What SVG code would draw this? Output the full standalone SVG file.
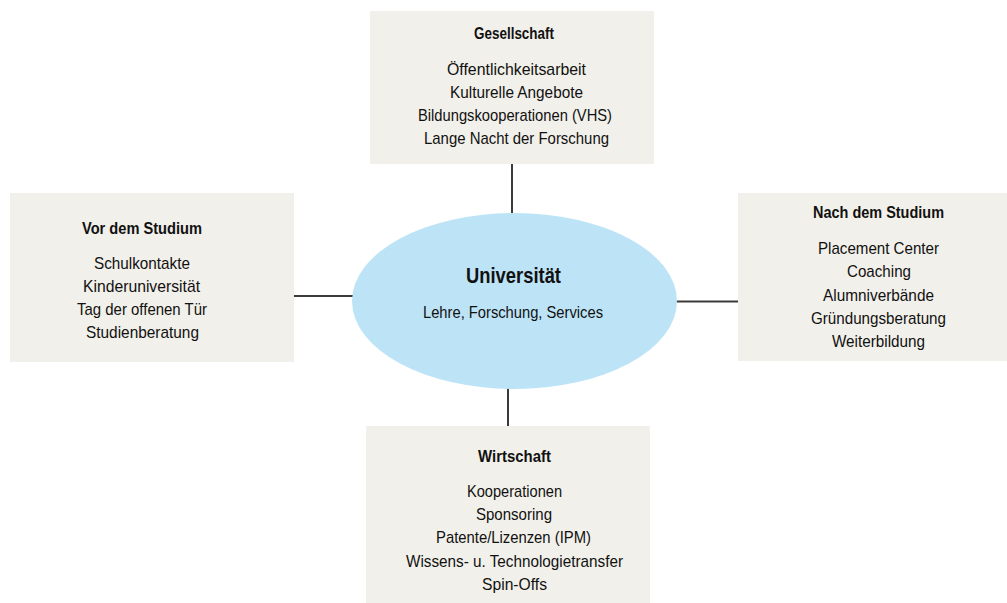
<svg xmlns="http://www.w3.org/2000/svg" width="1007" height="603" viewBox="0 0 1007 603">
<style>
.box{fill:#f1f0ea}
.ell{fill:#bde4f6}
.con line{stroke:#3a3a3a;stroke-width:2}
text{font-family:"Liberation Sans",Arial,sans-serif;fill:#111111;text-anchor:middle;font-size:17px}
.t{font-weight:bold}
.u{font-weight:bold;font-size:22px}
</style>
<rect width="1007" height="603" fill="#ffffff"/>
<g class="con" id="connectors">
<line x1="512" y1="164" x2="512" y2="214"/>
<line x1="294" y1="296" x2="353" y2="296"/>
<line x1="676" y1="301.5" x2="738" y2="301.5"/>
<line x1="508" y1="388" x2="508" y2="426"/>
</g>
<g id="gesellschaft">
<rect class="box" x="370" y="11" width="284" height="153"/>
<text class="t" x="514" y="39" textLength="80" lengthAdjust="spacingAndGlyphs">Gesellschaft</text>
<text x="516.5" y="75" textLength="139" lengthAdjust="spacingAndGlyphs">Öffentlichkeitsarbeit</text>
<text x="516.5" y="98" textLength="133" lengthAdjust="spacingAndGlyphs">Kulturelle Angebote</text>
<text x="515" y="121" textLength="194" lengthAdjust="spacingAndGlyphs">Bildungskooperationen (VHS)</text>
<text x="516.5" y="144" textLength="185" lengthAdjust="spacingAndGlyphs">Lange Nacht der Forschung</text>
</g>
<g id="vor">
<rect class="box" x="10" y="193" width="284" height="169"/>
<text class="t" x="142" y="234" textLength="120" lengthAdjust="spacingAndGlyphs">Vor dem Studium</text>
<text x="142" y="269" textLength="96" lengthAdjust="spacingAndGlyphs">Schulkontakte</text>
<text x="141.5" y="292" textLength="117" lengthAdjust="spacingAndGlyphs">Kinderuniversität</text>
<text x="142" y="315" textLength="130" lengthAdjust="spacingAndGlyphs">Tag der offenen Tür</text>
<text x="142.5" y="338" textLength="113" lengthAdjust="spacingAndGlyphs">Studienberatung</text>
</g>
<g id="nach">
<rect class="box" x="738" y="193" width="269" height="168"/>
<text class="t" x="878.5" y="218" textLength="131" lengthAdjust="spacingAndGlyphs">Nach dem Studium</text>
<text x="878.5" y="254" textLength="121" lengthAdjust="spacingAndGlyphs">Placement Center</text>
<text x="879" y="277" textLength="64" lengthAdjust="spacingAndGlyphs">Coaching</text>
<text x="878.5" y="301" textLength="111" lengthAdjust="spacingAndGlyphs">Alumniverbände</text>
<text x="878.5" y="324" textLength="135" lengthAdjust="spacingAndGlyphs">Gründungsberatung</text>
<text x="878.5" y="347" textLength="93" lengthAdjust="spacingAndGlyphs">Weiterbildung</text>
</g>
<g id="wirtschaft">
<rect class="box" x="366" y="426" width="284" height="177"/>
<text class="t" x="514.5" y="462" textLength="73" lengthAdjust="spacingAndGlyphs">Wirtschaft</text>
<text x="514.5" y="497" textLength="95" lengthAdjust="spacingAndGlyphs">Kooperationen</text>
<text x="514" y="520" textLength="76" lengthAdjust="spacingAndGlyphs">Sponsoring</text>
<text x="513.5" y="543" textLength="155" lengthAdjust="spacingAndGlyphs">Patente/Lizenzen (IPM)</text>
<text x="514.5" y="567" textLength="217" lengthAdjust="spacingAndGlyphs">Wissens- u. Technologietransfer</text>
<text x="514.5" y="590" textLength="65" lengthAdjust="spacingAndGlyphs">Spin-Offs</text>
</g>
<g id="universitaet">
<ellipse class="ell" cx="514.5" cy="301" rx="162.5" ry="88"/>
<text class="u" x="513.5" y="283" textLength="95" lengthAdjust="spacingAndGlyphs">Universität</text>
<text x="513" y="318" textLength="180" lengthAdjust="spacingAndGlyphs">Lehre, Forschung, Services</text>
</g>
</svg>
